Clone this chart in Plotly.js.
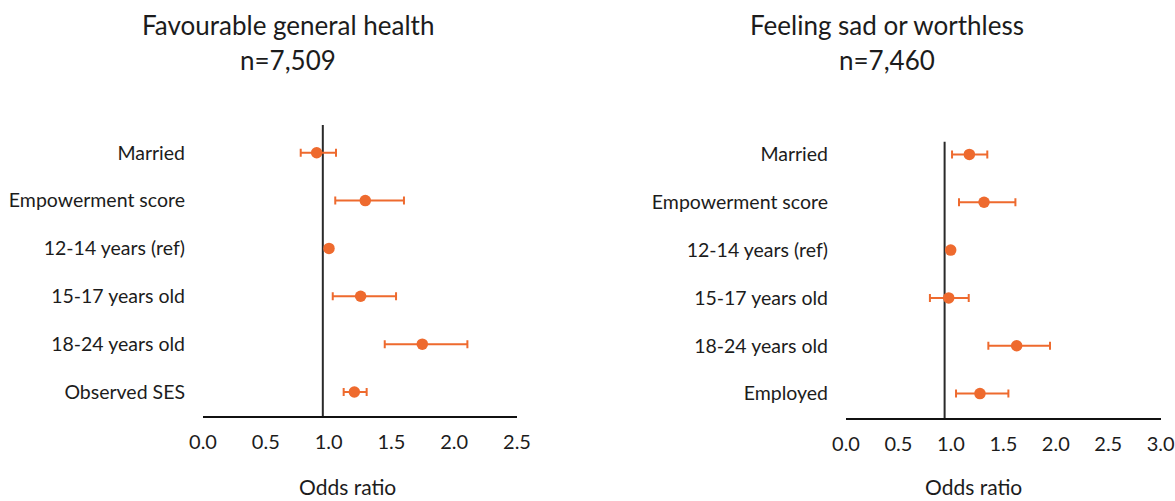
<!DOCTYPE html>
<html>
<head>
<meta charset="utf-8">
<script src="https://cdn.plot.ly/plotly-3.0.1.min.js"></script>
<style>
html,body{margin:0;padding:0;background:#fff;}
#chart{width:1175px;height:501px;}
</style>
</head>
<body>
<div id="chart"></div>
<script>
// ---- Data ----
const leftTitle = "Favourable general health";
const leftN = "n=7,509";
const leftCategories = ["Married", "Empowerment score", "12-14 years (ref)", "15-17 years old", "18-24 years old", "Observed SES"];
const leftOR    = [0.905, 1.292, 1.003, 1.255, 1.746, 1.205];
const leftLower = [0.778, 1.053, null, 1.033, 1.447, 1.120];
const leftUpper = [1.059, 1.600, null, 1.537, 2.105, 1.303];

const rightTitle = "Feeling sad or worthless";
const rightN = "n=7,460";
const rightCategories = ["Married", "Empowerment score", "12-14 years (ref)", "15-17 years old", "18-24 years old", "Employed"];
const rightOR    = [1.176, 1.316, 0.998, 0.979, 1.627, 1.277];
const rightLower = [1.011, 1.077, null, 0.800, 1.357, 1.049];
const rightUpper = [1.347, 1.615, null, 1.170, 1.945, 1.548];

// reference (no-effect) line as drawn in the picture
const refLine = [0.954, 0.94];
const xTickVals = [0, 0.5, 1, 1.5, 2, 2.5, 3];
const xTickText = ["0.0", "0.5", "1.0", "1.5", "2.0", "2.5", "3.0"];
const xAxisTitle = "Odds ratio";

// ---- Styling ----
const W = 1175, H = 501;
const ORANGE = "#EE6A2E";
const TXT = "#1c1c1c";
const FONT = "Lato, 'Open Sans', sans-serif";

function errs(v, lo, hi) {
  return {
    plus: v.map((d, i) => hi[i] == null ? NaN : hi[i] - d),
    minus: v.map((d, i) => lo[i] == null ? NaN : d - lo[i])
  };
}
const eL = errs(leftOR, leftLower, leftUpper);
const eR = errs(rightOR, rightLower, rightUpper);

function trace(x, y, e, xa, ya) {
  return {
    type: "scatter", mode: "markers", x: x, y: y, xaxis: xa, yaxis: ya,
    marker: {color: ORANGE, size: 11.5},
    error_x: {type: "data", symmetric: false, array: e.plus, arrayminus: e.minus,
              color: ORANGE, thickness: 2, width: 4},
    hoverinfo: "x+y", showlegend: false, cliponaxis: false
  };
}

const py = p => 1 - p / H;  // pixel -> paper (y)

const lBot = 415.9, lTop = 128.8;
const rBot = 417.5, rTop = 130.5;

const xaxisCommon = {
  tickvals: xTickVals, ticktext: xTickText, showgrid: false, zeroline: false,
  showline: true, linecolor: "#111", linewidth: 2, ticks: "",
  tickfont: {family: FONT, size: 20, color: TXT}, ticklabelstandoff: 7,
  fixedrange: true
};
const yaxisCommon = {
  type: "category", showgrid: false, zeroline: false, showline: false, ticks: "",
  tickfont: {family: FONT, size: 19.5, color: TXT}, ticklabelstandoff: 17,
  fixedrange: true
};

const layout = {
  width: W, height: H,
  margin: {l: 0, r: 0, t: 0, b: 0},
  paper_bgcolor: "#fff", plot_bgcolor: "#fff",
  font: {family: FONT, color: TXT},
  showlegend: false,
  xaxis: Object.assign({}, xaxisCommon, {domain: [203 / W, 517 / W], range: [0, 2.5], anchor: "y"}),
  yaxis: Object.assign({}, yaxisCommon, {domain: [py(lBot), py(lTop)], anchor: "x",
    categoryorder: "array", categoryarray: leftCategories, range: [5.5, -0.5]}),
  xaxis2: Object.assign({}, xaxisCommon, {domain: [846 / W, 1160.7 / W], range: [0, 3], anchor: "y2"}),
  yaxis2: Object.assign({}, yaxisCommon, {domain: [py(rBot), py(rTop)], anchor: "x2",
    categoryorder: "array", categoryarray: rightCategories, range: [5.5, -0.5]}),
  shapes: [
    {type: "line", xref: "x", yref: "paper", x0: refLine[0], x1: refLine[0],
     y0: py(lBot), y1: py(125), line: {color: "#2a2a2a", width: 2}, layer: "below"},
    {type: "line", xref: "x2", yref: "paper", x0: refLine[1], x1: refLine[1],
     y0: py(418.5), y1: py(141.7), line: {color: "#2a2a2a", width: 2}, layer: "below"}
  ],
  annotations: [
    {text: leftTitle, xref: "paper", yref: "paper", x: 288 / W, y: py(25), showarrow: false,
     xanchor: "center", yanchor: "middle", font: {family: FONT, size: 26, color: TXT}},
    {text: leftN, xref: "paper", yref: "paper", x: 288 / W, y: py(60), showarrow: false,
     xanchor: "center", yanchor: "middle", font: {family: FONT, size: 26, color: TXT}},
    {text: rightTitle, xref: "paper", yref: "paper", x: 887 / W, y: py(25), showarrow: false,
     xanchor: "center", yanchor: "middle", font: {family: FONT, size: 26, color: TXT}},
    {text: rightN, xref: "paper", yref: "paper", x: 887 / W, y: py(60), showarrow: false,
     xanchor: "center", yanchor: "middle", font: {family: FONT, size: 26, color: TXT}},
    {text: xAxisTitle, xref: "paper", yref: "paper", x: 347 / W, y: 0, showarrow: false,
     xanchor: "center", yanchor: "bottom", yshift: 0, font: {family: FONT, size: 21, color: TXT}},
    {text: xAxisTitle, xref: "paper", yref: "paper", x: 973 / W, y: 0, showarrow: false,
     xanchor: "center", yanchor: "bottom", yshift: 0, font: {family: FONT, size: 21, color: TXT}}
  ]
};

const data = [
  trace(leftOR, leftCategories, eL, "x", "y"),
  trace(rightOR, rightCategories, eR, "x2", "y2")
];

Plotly.newPlot("chart", data, layout, {displayModeBar: false, staticPlot: true});
</script>
</body>
</html>
